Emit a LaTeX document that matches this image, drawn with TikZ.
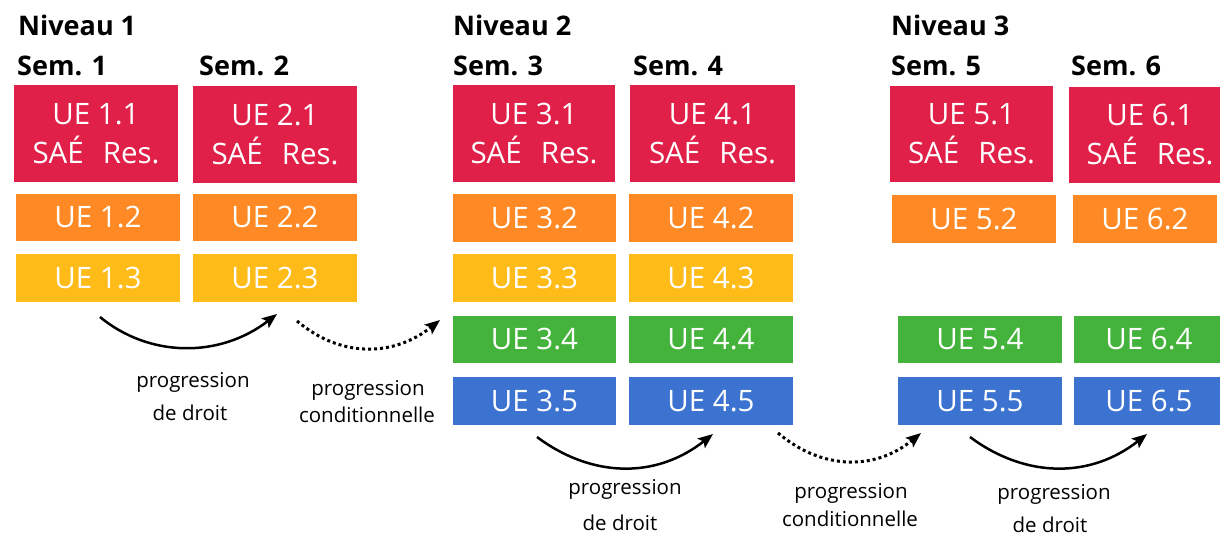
\documentclass[tikz,border=0pt]{standalone}
\usepackage{fontspec}
\setmainfont{Open Sans}
\usetikzlibrary{arrows.meta}
\definecolor{uered}{HTML}{E02048}
\definecolor{ueorange}{HTML}{FF8A25}
\definecolor{ueyellow}{HTML}{FFBB17}
\definecolor{uegreen}{HTML}{43B33B}
\definecolor{ueblue}{HTML}{3C73D0}
\begin{document}
\begin{tikzpicture}[x=1pt,y=-1pt,
  ue/.style={fill=#1, text=white, inner sep=0pt, align=center,
    font=\fontsize{29.5}{39}\selectfont},
  big/.style={ue=uered, minimum height=97pt},
  small/.style={minimum height=48pt},
  title/.style={anchor=base west, inner sep=0pt, font=\fontsize{27}{32}\selectfont\bfseries},
  lbl/.style={anchor=base, inner sep=0pt, font=\fontsize{20.5}{24}\selectfont},
  prog/.style={line width=2.5pt, -{Stealth[length=15pt,width=12pt,inset=3pt]}},
  cond/.style={line width=3pt, dash pattern=on 3pt off 3pt, -{Stealth[length=15pt,width=12pt,inset=3pt]}}]
\useasboundingbox (0,0) rectangle (1220,536);

% titles
\node[title] (n1) at (18,35) {Niveau 1};
\node[title] (s1) at (17,75) {Sem. 1};
\node[title] (s2) at (199,75) {Sem. 2};
\node[title] (n2) at (453,35) {Niveau 2};
\node[title] (s3) at (453,75) {Sem. 3};
\node[title] (s4) at (633,75) {Sem. 4};
\node[title] (n3) at (891,35) {Niveau 3};
\node[title] (s5) at (891,75) {Sem. 5};
\node[title] (s6) at (1071,75) {Sem. 6};

% Niveau 1
\node[big, minimum width=164pt] (u11) at (96,133.5) {UE 1.1\\SAÉ\hspace{19pt}Res.};
\node[big, minimum width=164pt] (u21) at (275,134.5) {UE 2.1\\SAÉ\hspace{19pt}Res.};
\node[ue=ueorange, minimum width=164pt, minimum height=47pt] (u12) at (98,217.5) {UE 1.2};
\node[ue=ueorange, minimum width=164pt, minimum height=47pt] (u22) at (275,217.5) {UE 2.2};
\node[ue=ueyellow, small, minimum width=164pt] (u13) at (98,278) {UE 1.3};
\node[ue=ueyellow, small, minimum width=164pt] (u23) at (275,278) {UE 2.3};

% Niveau 2
\node[big, minimum width=162pt] (u31) at (534,133.5) {UE 3.1\\SAÉ\hspace{19pt}Res.};
\node[big, minimum width=165pt] (u41) at (712.5,133.5) {UE 4.1\\SAÉ\hspace{19pt}Res.};
\node[ue=ueorange, small, minimum width=163pt] (u32) at (534.5,218) {UE 3.2};
\node[ue=ueorange, small, minimum width=164pt] (u42) at (711,218) {UE 4.2};
\node[ue=ueyellow, small, minimum width=163pt] (u33) at (534.5,278) {UE 3.3};
\node[ue=ueyellow, small, minimum width=164pt] (u43) at (711,278) {UE 4.3};
\node[ue=uegreen, minimum width=163pt, minimum height=47pt] (u34) at (534.5,339.5) {UE 3.4};
\node[ue=uegreen, minimum width=164pt, minimum height=47pt] (u44) at (711,339.5) {UE 4.4};
\node[ue=ueblue, small, minimum width=163pt] (u35) at (534.5,401) {UE 3.5};
\node[ue=ueblue, small, minimum width=164pt] (u45) at (711,401) {UE 4.5};

% Niveau 3
\node[big, minimum width=163pt, minimum height=96pt] (u51) at (971.5,134) {UE 5.1\\SAÉ\hspace{19pt}Res.};
\node[big, minimum width=162pt, minimum height=96pt] (u61) at (1150,135) {UE 6.1\\SAÉ\hspace{19pt}Res.};
\node[ue=ueorange, small, minimum width=164pt] (u52) at (974,219) {UE 5.2};
\node[ue=ueorange, small, minimum width=144pt] (u62) at (1145,219) {\raisebox{-7pt}{UE 6.2}};
\node[ue=uegreen, minimum width=164pt, minimum height=47pt] (u54) at (980,339.5) {UE 5.4};
\node[ue=uegreen, minimum width=150pt, minimum height=47pt] (u64) at (1149,339.5) {UE 6.4};
\node[ue=ueblue, small, minimum width=164pt] (u55) at (980,401) {UE 5.5};
\node[ue=ueblue, small, minimum width=150pt] (u65) at (1149,401) {UE 6.5};

% arrow end points
\coordinate (a1s) at (100,317);  \coordinate (a1e) at (277,314);
\coordinate (a2s) at (297,321);  \coordinate (a2e) at (440,320);
\coordinate (a3s) at (537,437);  \coordinate (a3e) at (713,434);
\coordinate (a4s) at (778,433);  \coordinate (a4e) at (921,433);
\coordinate (a5s) at (970,437);  \coordinate (a5e) at (1147,434);

\draw[prog] (a1s) .. controls +(50,41) and +(-57,44) .. (a1e);
\draw[cond] (a2s) .. controls +(45,38) and +(-45,36) .. (a2e);
\draw[prog] (a3s) .. controls +(55,41) and +(-57,45) .. (a3e);
\draw[cond] (a4s) .. controls +(45,38) and +(-45,37) .. (a4e);
\draw[prog] (a5s) .. controls +(55,41) and +(-57,45) .. (a5e);

% labels
\node[lbl] (l1a) at (193,387) {progression};
\node[lbl] (l1b) at (190,420) {de droit};
\node[lbl] (l2a) at (368,395) {progression};
\node[lbl] (l2b) at (367,422) {conditionnelle};
\node[lbl] (l3a) at (625,494) {progression};
\node[lbl] (l3b) at (620,530) {de droit};
\node[lbl] (l4a) at (851,498) {progression};
\node[lbl] (l4b) at (850,526) {conditionnelle};
\node[lbl] (l5a) at (1054,499) {progression};
\node[lbl] (l5b) at (1050,532) {de droit};
\end{tikzpicture}
\end{document}
